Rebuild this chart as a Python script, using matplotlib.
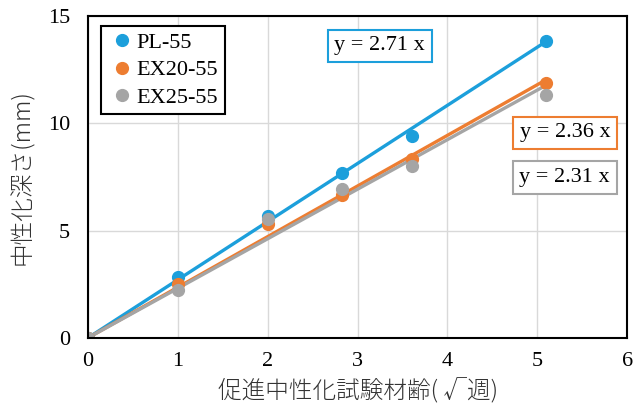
import numpy as np
import matplotlib
matplotlib.use('Agg')
import matplotlib.pyplot as plt

# accelerated carbonation age in sqrt(weeks): 0, 1, 4, 8, 13, 26 weeks
weeks = [0, 1, 4, 8, 13, 26]
pl55 = [0, 2.85, 5.68, 7.69, 9.41, 13.86]
ex20_55 = [0, 2.49, 5.31, 6.68, 8.34, 11.90]
ex25_55 = [0, 2.23, 5.52, 6.92, 8.03, 11.34]
slopes = [2.71, 2.36, 2.31]
names = ["PL-55", "EX20-55", "EX25-55"]
colors = ["#1c9fdb", "#ed7d31", "#a5a5a5"]

serif = ["Liberation Serif", "DejaVu Serif"]
cjk = ["Noto Sans CJK JP", "DejaVu Sans"]

x = np.sqrt(weeks)

fig = plt.figure(figsize=(6.4, 4.12), dpi=100)
ax = fig.add_axes([0.1375, 0.180, 0.8425, 0.781])

series = [pl55, ex20_55, ex25_55]
for ys, k, name, c in zip(series, slopes, names, colors):
    ax.plot(x, ys, "o", color=c, markersize=8.5, label=name, zorder=3)
    xf = np.array([0, x[-1]])
    ax.plot(xf, k * xf, "-", color=c, linewidth=2.4, zorder=2)

ax.set_xlim(0, 6)
ax.set_ylim(0, 15)
ax.set_xticks(range(0, 7))
ax.set_yticks([0, 5, 10, 15])
ax.grid(True, color="#d9d9d9", linewidth=1.0)
ax.set_axisbelow(True)
ax.tick_params(axis="y", length=0, pad=13, labelsize=16)
ax.tick_params(axis="x", length=0, pad=10, labelsize=16)
for lab in ax.get_xticklabels() + ax.get_yticklabels():
    lab.set_family(serif)
for sp in ax.spines.values():
    sp.set_color("black")
    sp.set_linewidth(1.5)
    sp.set_zorder(5)

ax.set_xlabel("促進中性化試験材齢( √週)", family=cjk, fontsize=17, fontweight="light",
              labelpad=6, color="#333333")
ax.set_ylabel("中性化深さ(mm)", family=cjk, fontsize=17, fontweight="light",
              labelpad=9, color="#333333")

leg = ax.legend(loc="upper left", bbox_to_anchor=(0.024, 0.969),
                prop={"family": serif, "size": 16},
                frameon=True, fancybox=False, edgecolor="black", framealpha=1,
                handletextpad=0.0, handlelength=1.3, borderpad=0.3,
                labelspacing=0.3, borderaxespad=0)
leg.get_frame().set_linewidth(1.5)

# trend line equations
eq_pos = [(0.541, 0.907), (0.885, 0.637), (0.884, 0.498)]
for k, c, (px, py) in zip(slopes, colors, eq_pos):
    ax.text(px, py, f"y = {k:.2f} x", transform=ax.transAxes, ha="center", va="center",
            family=serif, fontsize=16, zorder=6,
            bbox=dict(boxstyle="square,pad=0.3", facecolor="white", edgecolor=c, linewidth=1.5))

fig.savefig("out.png", dpi=100)
